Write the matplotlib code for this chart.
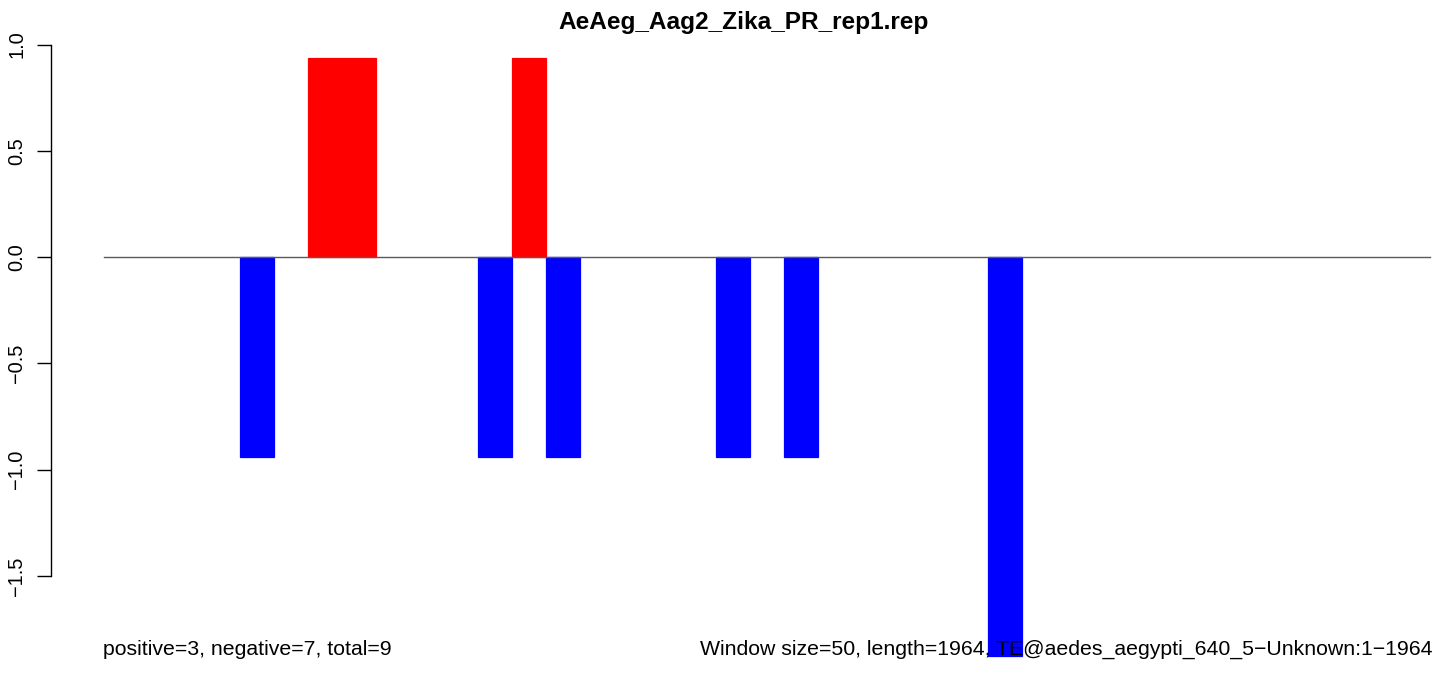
import matplotlib
matplotlib.use("Agg")
import matplotlib.pyplot as plt

# ---- data ----
title = "AeAeg_Aag2_Zika_PR_rep1.rep"
window_size = 50
seq_length = 1964
window_start = [200, 300, 350, 550, 600, 650, 900, 1000, 1300]
values = [-0.938, 0.938, 0.938, -0.938, 0.938, -0.938, -0.938, -0.938, -1.876]
ytick_vals = [-1.5, -1.0, -0.5, 0.0, 0.5, 1.0]
ytick_labels = ["\u22121.5", "\u22121.0", "\u22120.5", "0.0", "0.5", "1.0"]
left_note = "positive=3, negative=7, total=9"
right_note = "Window size=50, length=1964, TE@aedes_aegypti_640_5\u2212Unknown:1\u22121964"

# ---- layout (pixels) ----
W, H, DPI = 1444, 677, 100
x0_px, px_per_bp = 104.0, 0.68
y0_px, px_per_unit = 257.1, 212.6
ax_l, ax_r, ax_t, ax_b = 51, 1437, 20, 670

plt.rcParams['font.family'] = ['Liberation Sans', 'DejaVu Sans']
fig = plt.figure(figsize=(W / DPI, H / DPI), dpi=DPI)
ax = fig.add_axes([ax_l / W, 1 - ax_b / H, (ax_r - ax_l) / W, (ax_b - ax_t) / H])
ax.set_xlim((ax_l - x0_px) / px_per_bp, (ax_r - x0_px) / px_per_bp)
ax.set_ylim((y0_px - ax_b) / px_per_unit, (y0_px - ax_t) / px_per_unit)
ax.patch.set_visible(False)

colors = ['#FF0000' if v > 0 else '#0000FF' for v in values]
ax.bar(window_start, values, width=window_size, align='edge', color=colors,
       edgecolor=colors, linewidth=0.9, zorder=2)

n_windows = seq_length // window_size
line_end = n_windows * window_size
ax.plot([0, line_end], [0, 0], color='#5a5a5a', lw=1.0, zorder=3,
        solid_capstyle='projecting')

for s in ['top', 'right', 'bottom']:
    ax.spines[s].set_visible(False)
ax.spines['left'].set_bounds(ytick_vals[0], ytick_vals[-1])
ax.spines['left'].set_linewidth(1.0)
ax.set_xticks([])
ax.set_yticks(ytick_vals)
ax.set_yticklabels(ytick_labels, rotation=90, va='center', fontsize=14.4)
ax.tick_params(axis='y', length=10, width=1.0, pad=8, direction='out')

fig.text(744 / W, 1 - 29 / H, title, ha='center', va='baseline',
         fontsize=17.6, fontweight='bold')
fig.text(103 / W, 1 - 655 / H, left_note, ha='left', va='baseline', fontsize=15.3)
fig.text((x0_px + line_end * px_per_bp + 2) / W, 1 - 655 / H, right_note,
         ha='right', va='baseline', fontsize=15.3, zorder=5)

fig.savefig("out.png", dpi=DPI)
